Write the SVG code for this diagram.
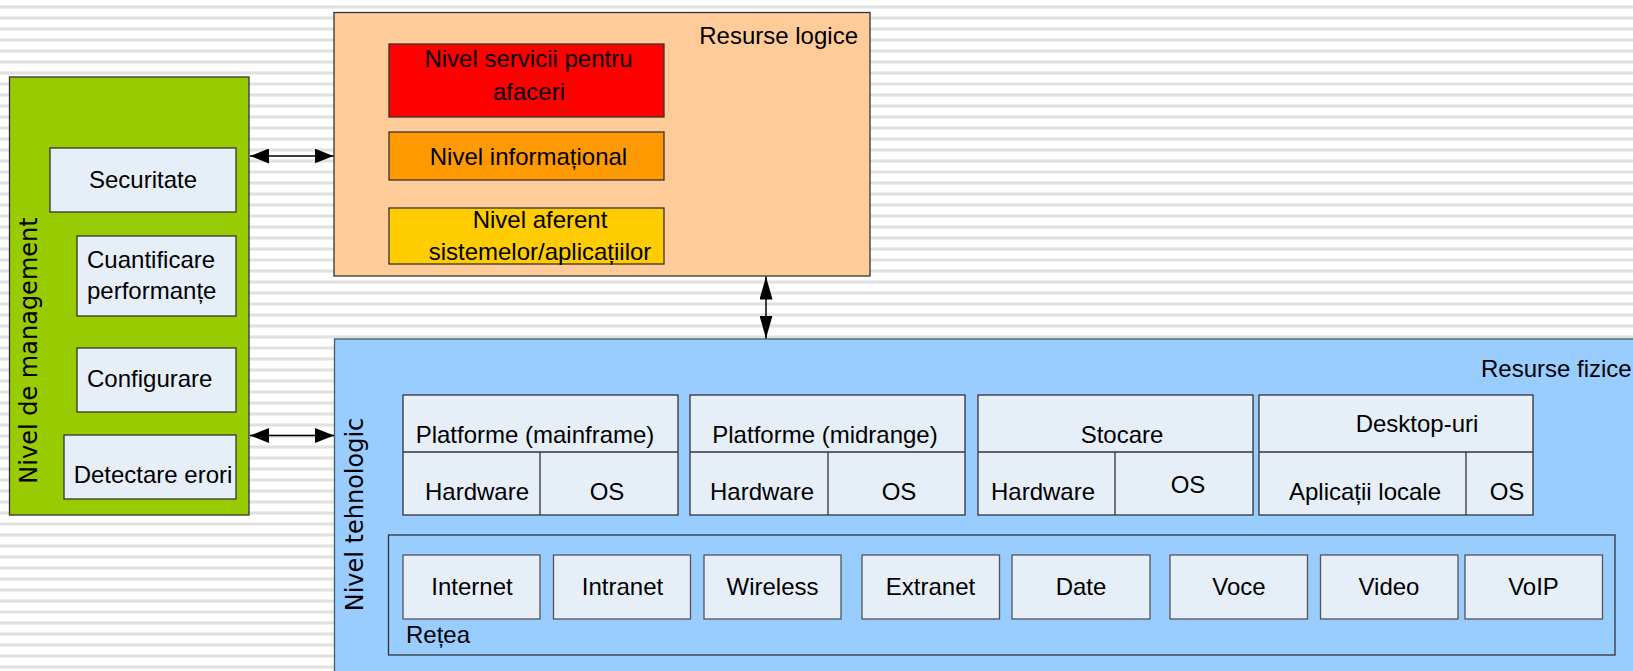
<svg xmlns="http://www.w3.org/2000/svg" width="1633" height="671" viewBox="0 0 1633 671">
  <defs>
    <pattern id="stripes" x="0" y="0" width="16" height="11" patternUnits="userSpaceOnUse">
      <rect x="0" y="0" width="16" height="11" fill="#ffffff"/>
      <rect x="0" y="5" width="16" height="1" fill="#eeeeee"/>
      <rect x="0" y="6" width="16" height="2" fill="#e1e1e1"/>
      <rect x="0" y="8" width="16" height="1" fill="#eeeeee"/>
    </pattern>
    <marker id="arrH" viewBox="0 0 19 15" refX="19" refY="7.5" markerWidth="19" markerHeight="15" markerUnits="userSpaceOnUse" orient="auto-start-reverse">
      <path d="M0,0 L19,7.5 L0,15 Z" fill="#000"/>
    </marker>
    <marker id="arrV" viewBox="0 0 23 13" refX="23" refY="6.5" markerWidth="23" markerHeight="13" markerUnits="userSpaceOnUse" orient="auto-start-reverse">
      <path d="M0,0 L23,6.5 L0,13 Z" fill="#000"/>
    </marker>
  </defs>
  <style>
    text { font-family: "Liberation Sans", Arial, sans-serif; font-size: 24px; fill: #000; }
    .mid { text-anchor: middle; }
    .vert { font-family: "DejaVu Sans", Verdana, sans-serif; font-size: 24px; text-anchor: middle; }
    .item { fill: #e6eef8; stroke: #333; stroke-width: 1.3; }
    .net { fill: #e6eef8; stroke: #555; stroke-width: 1.3; }
    .frame { stroke: #333; stroke-width: 1.3; }
    .link { stroke: #000; stroke-width: 1.5; fill: none; }
  </style>

  <!-- striped page background -->
  <rect x="0" y="0" width="1633" height="671" fill="url(#stripes)"/>

  <!-- management layer -->
  <g id="management">
    <rect class="frame" x="9.5" y="77" width="239.5" height="438" fill="#99cc00"/>
    <text class="vert" transform="translate(37,350.5) rotate(-90)">Nivel de management</text>
  </g>
  <g id="securitate">
    <rect class="item" x="50" y="148" width="186" height="64"/>
    <text class="mid" x="143" y="188">Securitate</text>
  </g>
  <g id="performanta">
    <rect class="item" x="77" y="236" width="159" height="80"/>
    <text x="87" y="268">Cuantificare</text>
    <text x="87" y="299">performanțe</text>
  </g>
  <g id="configurare">
    <rect class="item" x="77" y="348" width="159" height="64"/>
    <text x="87" y="387">Configurare</text>
  </g>
  <g id="erori">
    <rect class="item" x="64" y="435" width="172" height="64"/>
    <text class="mid" x="153" y="483">Detectare erori</text>
  </g>

  <!-- logical resources -->
  <g id="resurse-logice">
    <rect class="frame" x="334" y="12.5" width="536" height="263.5" fill="#ffcc99"/>
    <text x="858" y="44" text-anchor="end">Resurse logice</text>
  </g>
  <g id="servicii">
    <rect class="frame" x="389" y="44" width="275" height="73" fill="#ff0000"/>
    <text class="mid" x="528.5" y="67">Nivel servicii pentru</text>
    <text class="mid" x="529" y="100">afaceri</text>
  </g>
  <g id="informational">
    <rect class="frame" x="389" y="132" width="275" height="48" fill="#ff9900"/>
    <text class="mid" x="528.5" y="165">Nivel informațional</text>
  </g>
  <g id="aplicatii">
    <rect class="frame" x="389" y="208" width="275" height="56" fill="#ffcc00"/>
    <text class="mid" x="540" y="228">Nivel aferent</text>
    <text class="mid" x="540" y="260">sistemelor/aplicațiilor</text>
  </g>

  <!-- physical resources / technology layer -->
  <g id="resurse-fizice">
    <rect x="334.5" y="339" width="1320" height="400" fill="#99ccff" stroke="#4a5868" stroke-width="1.3"/>
    <text x="1481" y="377">Resurse fizice</text>
    <text class="vert" transform="translate(363,514.5) rotate(-90)">Nivel tehnologic</text>
  </g>

  <g id="mainframe">
    <rect class="item" x="403" y="395" width="275" height="120"/>
    <line class="frame" x1="403" y1="452" x2="678" y2="452"/>
    <line class="frame" x1="540" y1="452" x2="540" y2="515"/>
    <text class="mid" x="535" y="443">Platforme (mainframe)</text>
    <text class="mid" x="477" y="500">Hardware</text>
    <text class="mid" x="607" y="500">OS</text>
  </g>
  <g id="midrange">
    <rect class="item" x="690" y="395" width="275" height="120"/>
    <line class="frame" x1="690" y1="452" x2="965" y2="452"/>
    <line class="frame" x1="828" y1="452" x2="828" y2="515"/>
    <text class="mid" x="825" y="443">Platforme (midrange)</text>
    <text class="mid" x="762" y="500">Hardware</text>
    <text class="mid" x="899" y="500">OS</text>
  </g>
  <g id="stocare">
    <rect class="item" x="978" y="395" width="275" height="120"/>
    <line class="frame" x1="978" y1="452" x2="1253" y2="452"/>
    <line class="frame" x1="1115" y1="452" x2="1115" y2="515"/>
    <text class="mid" x="1122" y="443">Stocare</text>
    <text class="mid" x="1043" y="500">Hardware</text>
    <text class="mid" x="1188" y="493">OS</text>
  </g>
  <g id="desktop">
    <rect class="item" x="1259" y="395" width="274" height="120"/>
    <line class="frame" x1="1259" y1="452" x2="1533" y2="452"/>
    <line class="frame" x1="1466" y1="452" x2="1466" y2="515"/>
    <text class="mid" x="1417" y="432">Desktop-uri</text>
    <text class="mid" x="1365" y="500">Aplicații locale</text>
    <text class="mid" x="1507" y="500">OS</text>
  </g>

  <!-- network -->
  <g id="retea">
    <rect class="frame" x="388.5" y="535" width="1226.5" height="120" fill="#99ccff"/>
    <text x="406" y="643">Rețea</text>
  </g>
  <g id="internet">
    <rect class="net" x="403" y="555" width="137" height="64"/>
    <text class="mid" x="472" y="595">Internet</text>
  </g>
  <g id="intranet">
    <rect class="net" x="553.5" y="555" width="137" height="64"/>
    <text class="mid" x="622.5" y="595">Intranet</text>
  </g>
  <g id="wireless">
    <rect class="net" x="704" y="555" width="137" height="64"/>
    <text class="mid" x="772.5" y="595">Wireless</text>
  </g>
  <g id="extranet">
    <rect class="net" x="862" y="555" width="137.5" height="64"/>
    <text class="mid" x="930.5" y="595">Extranet</text>
  </g>
  <g id="date">
    <rect class="net" x="1012" y="555" width="138" height="64"/>
    <text class="mid" x="1081" y="595">Date</text>
  </g>
  <g id="voce">
    <rect class="net" x="1170" y="555" width="137.5" height="64" stroke="#222"/>
    <text class="mid" x="1239" y="595">Voce</text>
  </g>
  <g id="video">
    <rect class="net" x="1320.5" y="555" width="137.5" height="64"/>
    <text class="mid" x="1389" y="595">Video</text>
  </g>
  <g id="voip">
    <rect class="net" x="1465" y="555" width="137.5" height="64"/>
    <text class="mid" x="1533.5" y="595">VoIP</text>
  </g>

  <!-- connectors -->
  <g id="connectors">
    <line class="link" x1="250" y1="156" x2="333.5" y2="156" marker-start="url(#arrH)" marker-end="url(#arrH)"/>
    <line class="link" x1="250" y1="435.5" x2="334" y2="435.5" marker-start="url(#arrH)" marker-end="url(#arrH)"/>
    <line class="link" x1="766" y1="276.5" x2="766" y2="338.5" marker-start="url(#arrV)" marker-end="url(#arrV)"/>
  </g>
</svg>
